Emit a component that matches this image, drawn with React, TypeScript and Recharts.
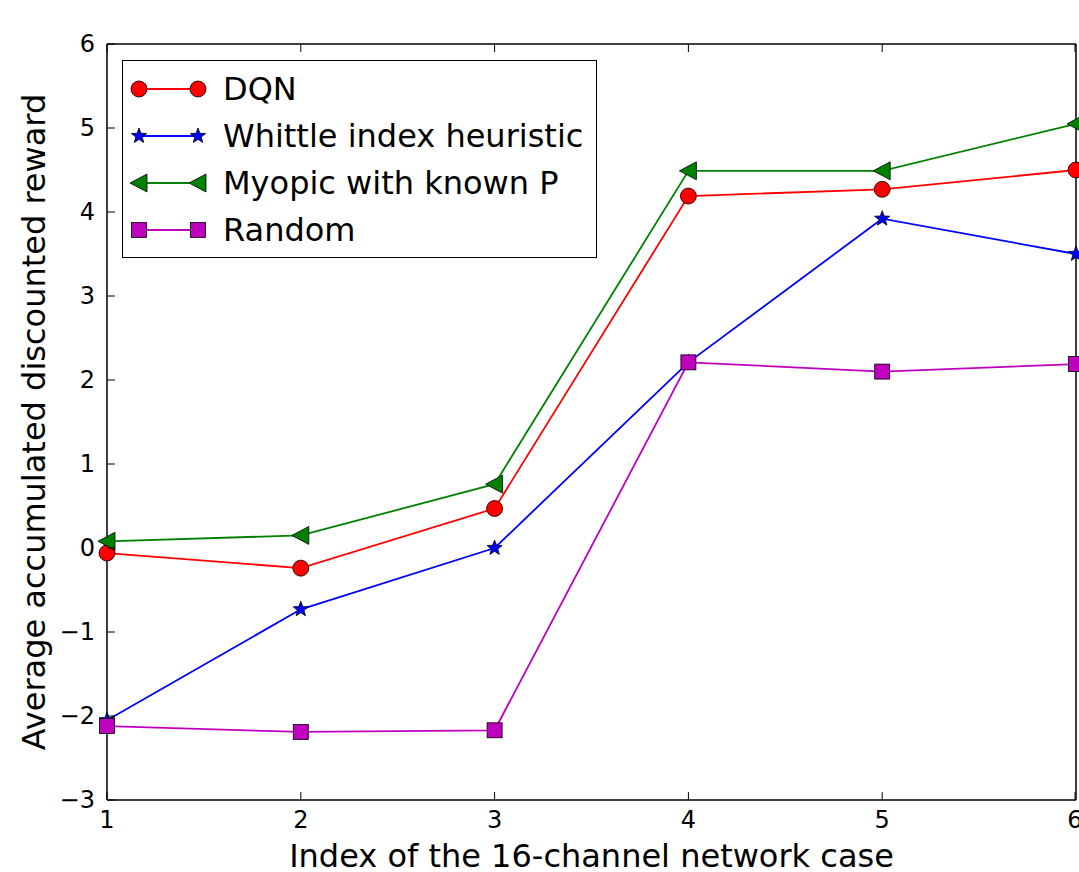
import { LineChart, Line, XAxis, YAxis } from "recharts"

const cases = [1, 2, 3, 4, 5, 6]
const dqn = [-0.06, -0.24, 0.47, 4.19, 4.27, 4.5]
const whittle = [-2.05, -0.73, 0.0, 2.21, 3.92, 3.5]
const myopic = [0.08, 0.15, 0.76, 4.49, 4.49, 5.05]
const random = [-2.12, -2.19, -2.17, 2.21, 2.1, 2.19]
const xTicks = [1, 2, 3, 4, 5, 6]
const yTicks = [-3, -2, -1, 0, 1, 2, 3, 4, 5, 6]

const data = cases.map((x, i) => ({
  x,
  dqn: dqn[i],
  whittle: whittle[i],
  myopic: myopic[i],
  random: random[i],
}))

const FONT = "'DejaVu Sans', sans-serif"

type MarkerKind = "circle" | "star" | "triangle" | "square"

const series: { key: string; name: string; color: string; marker: MarkerKind }[] = [
  { key: "dqn", name: "DQN", color: "#ff0000", marker: "circle" },
  { key: "whittle", name: "Whittle index heuristic", color: "#0000ff", marker: "star" },
  { key: "myopic", name: "Myopic with known P", color: "#008000", marker: "triangle" },
  { key: "random", name: "Random", color: "#bf00bf", marker: "square" },
]

function starPath(cx: number, cy: number, r: number) {
  const pts: string[] = []
  for (let i = 0; i < 10; i++) {
    const rr = i % 2 === 0 ? r : r * 0.42
    const a = -Math.PI / 2 + (i * Math.PI) / 5
    pts.push(`${cx + rr * Math.cos(a)},${cy + rr * Math.sin(a)}`)
  }
  return "M" + pts.join("L") + "Z"
}

function Marker({ kind, cx, cy, color }: { kind: MarkerKind; cx: number; cy: number; color: string }) {
  const edge = { stroke: "#000", strokeWidth: 0.8, fill: color }
  if (kind === "circle") return <circle cx={cx} cy={cy} r={8} {...edge} />
  if (kind === "square") return <rect x={cx - 7.5} y={cy - 7.5} width={15} height={15} {...edge} />
  if (kind === "triangle")
    return <path d={`M${cx - 9},${cy} L${cx + 8},${cy - 9} L${cx + 8},${cy + 9} Z`} {...edge} />
  return <path d={starPath(cx, cy, 8)} {...edge} />
}

const fmt = (v: number) => String(v).replace("-", "\u2212")

const LeftTick = ({ x, y, payload }: any) => (
  <g>
    <line x1={x + 12} x2={x + 20} y1={y} y2={y} stroke="#000" strokeWidth={1} />
    <text x={x} y={y} dy={8} textAnchor="end" fontFamily={FONT} fontSize={24} fill="#000">
      {fmt(payload.value)}
    </text>
  </g>
)

const BottomTick = ({ x, y, payload }: any) => (
  <g>
    <line x1={x} x2={x} y1={y - 8} y2={y - 16} stroke="#000" strokeWidth={1} />
    <text x={x} y={y} dy={20} textAnchor="middle" fontFamily={FONT} fontSize={24} fill="#000">
      {fmt(payload.value)}
    </text>
  </g>
)

const RightTick = ({ x, y }: any) => (
  <line x1={x} x2={x - 8} y1={y} y2={y} stroke="#000" strokeWidth={1} />
)

const TopTick = ({ x, y }: any) => (
  <line x1={x} x2={x} y1={y} y2={y + 8} stroke="#000" strokeWidth={1} />
)

const LegendBox = () => (
  <div
    style={{
      position: "absolute",
      left: 122,
      top: 60,
      border: "1.5px solid #000",
      background: "#fff",
      width: 475,
      height: 198,
      boxSizing: "border-box",
      paddingTop: 4,
    }}
  >
    {series.map((s) => (
      <div key={s.key} style={{ display: "flex", alignItems: "center", height: 47 }}>
        <svg width={100} height={30} style={{ flex: "none" }}>
          <line x1={16} x2={75} y1={15} y2={15} stroke={s.color} strokeWidth={1.8} />
          <Marker kind={s.marker} cx={16} cy={15} color={s.color} />
          <Marker kind={s.marker} cx={75} cy={15} color={s.color} />
        </svg>
        <span style={{ fontFamily: FONT, fontSize: 32, color: "#000", whiteSpace: "nowrap" }}>{s.name}</span>
      </div>
    ))}
  </div>
)

export default function App() {
  return (
    <div style={{ position: "absolute", left: 0, top: 0, width: 1079, height: 872, background: "#fff" }}>
      <LineChart width={1079} height={872} data={data} margin={{ top: 43, right: 0, bottom: 0, left: 0 }}>
        <XAxis
          dataKey="x"
          type="number"
          domain={[1, 6]}
          ticks={xTicks}
          height={72}
          tickSize={0}
          tickMargin={8}
          tickLine={false}
          axisLine={{ stroke: "#000", strokeWidth: 1.5 }}
          tick={<BottomTick />}
          label={{
            value: "Index of the 16-channel network case",
            position: "insideBottom",
            offset: 5,
            style: { fontFamily: FONT, fontSize: 32, fill: "#000" },
          }}
        />
        <XAxis
          xAxisId="top"
          orientation="top"
          dataKey="x"
          type="number"
          domain={[1, 6]}
          ticks={xTicks}
          height={1}
          tickSize={0}
          tickMargin={0}
          tickLine={false}
          axisLine={{ stroke: "#000", strokeWidth: 1.5 }}
          tick={<TopTick />}
        />
        <YAxis
          type="number"
          domain={[-3, 6]}
          ticks={yTicks}
          width={107}
          tickSize={0}
          tickMargin={12}
          tickLine={false}
          axisLine={{ stroke: "#000", strokeWidth: 1.5 }}
          tick={<LeftTick />}
          label={{
            value: "Average accumulated discounted reward",
            angle: -90,
            position: "insideLeft",
            offset: 34,
            style: { fontFamily: FONT, fontSize: 32, fill: "#000", textAnchor: "middle" },
          }}
        />
        <YAxis
          yAxisId="right"
          orientation="right"
          type="number"
          domain={[-3, 6]}
          ticks={yTicks}
          width={3}
          tickSize={0}
          tickMargin={0}
          tickLine={false}
          axisLine={{ stroke: "#000", strokeWidth: 1.5 }}
          tick={<RightTick />}
        />
        {series.map((s) => (
          <Line
            key={s.key}
            dataKey={s.key}
            name={s.name}
            type="linear"
            stroke={s.color}
            strokeWidth={1.8}
            isAnimationActive={false}
            dot={(p: any) => <Marker key={`${s.key}-${p.index}`} kind={s.marker} cx={p.cx} cy={p.cy} color={s.color} />}
            activeDot={false}
          />
        ))}
      </LineChart>
      <LegendBox />
    </div>
  )
}
